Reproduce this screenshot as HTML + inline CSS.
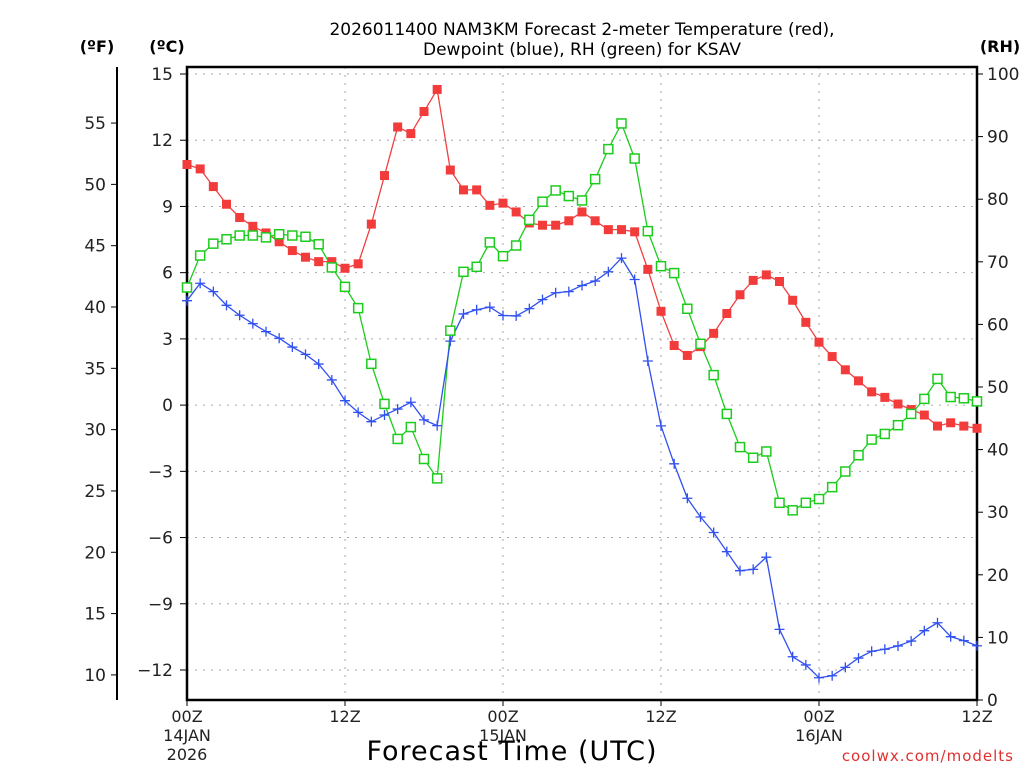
<!DOCTYPE html>
<html><head><meta charset="utf-8"><style>
body{margin:0;background:#fff;width:1024px;height:768px;overflow:hidden}
text{font-family:"DejaVu Sans","Liberation Sans",sans-serif}
</style></head><body>
<svg id="chart" width="1024" height="768" viewBox="0 0 1024 768" xmlns="http://www.w3.org/2000/svg">
<text x="582" y="35" text-anchor="middle" font-size="17" fill="#000">2026011400 NAM3KM Forecast 2-meter Temperature (red),</text>
<text x="582" y="55" text-anchor="middle" font-size="17" fill="#000">Dewpoint (blue), RH (green) for KSAV</text>
<text x="97" y="52" text-anchor="middle" font-size="16" font-weight="bold">(ºF)</text>
<text x="167" y="52" text-anchor="middle" font-size="16" font-weight="bold">(ºC)</text>
<text x="1000" y="52" text-anchor="middle" font-size="16" font-weight="bold">(RH)</text>
<g id="grid"></g><g id="axes"></g><g id="series"></g>
<text x="512" y="760" text-anchor="middle" font-size="27" fill="#000" letter-spacing="1">Forecast Time (UTC)</text>
<text x="1014" y="761" text-anchor="end" font-size="15" fill="#e03030" letter-spacing="1">coolwx.com/modelts</text>
</svg>
<script>
const hours=[...Array(61).keys()];
const tempC=[10.9,10.7,9.9,9.1,8.5,8.1,7.8,7.4,7.0,6.7,6.5,6.5,6.2,6.4,8.2,10.4,12.6,12.3,13.3,14.3,10.65,9.75,9.75,9.05,9.15,8.75,8.25,8.15,8.15,8.35,8.75,8.35,7.95,7.95,7.85,6.15,4.25,2.7,2.25,2.65,3.25,4.15,5.0,5.65,5.9,5.6,4.75,3.75,2.85,2.2,1.6,1.1,0.6,0.35,0.05,-0.2,-0.45,-0.95,-0.8,-0.95,-1.05];
const dewC=[4.73,5.52,5.14,4.52,4.07,3.69,3.33,3.03,2.63,2.3,1.86,1.14,0.2,-0.33,-0.75,-0.45,-0.18,0.13,-0.67,-0.93,2.9,4.13,4.32,4.44,4.06,4.04,4.37,4.78,5.09,5.14,5.42,5.62,6.04,6.66,5.69,2.0,-0.94,-2.66,-4.22,-5.07,-5.77,-6.64,-7.5,-7.44,-6.89,-10.16,-11.4,-11.77,-12.35,-12.26,-11.88,-11.46,-11.15,-11.06,-10.91,-10.69,-10.22,-9.86,-10.49,-10.67,-10.9];
const rh=[65.9,71.0,72.9,73.6,74.2,74.2,73.9,74.4,74.2,74.0,72.8,69.1,66.0,62.6,53.7,47.3,41.7,43.6,38.5,35.4,59.0,68.4,69.2,73.1,70.9,72.6,76.7,79.6,81.4,80.5,79.8,83.2,88.0,92.1,86.5,74.9,69.3,68.2,62.5,56.9,51.9,45.7,40.4,38.7,39.7,31.5,30.3,31.5,32.1,34.0,36.5,39.1,41.6,42.5,43.9,45.7,48.1,51.3,48.4,48.2,47.7];
const cTicks=[15,12,9,6,3,0,-3,-6,-9,-12];
const fTicks=[55,50,45,40,35,30,25,20,15,10];
const rhTicks=[100,90,80,70,60,50,40,30,20,10,0];
const xTickHours=[0,12,24,36,48,60];
const xTickLabels=[["00Z","14JAN","2026"],["12Z"],["00Z","15JAN"],["12Z"],["00Z","16JAN"],["12Z"]];
const L=187,R=977,T=67,B=700;
const x=h=>L+(R-L)*h/60;
const yC=c=>74+(15-c)*(596/27);
const yF=f=>yC((f-32)*5/9);
const yRH=r=>700-r*6.26;
const NS="http://www.w3.org/2000/svg";
function mk(p,tag,a){const e=document.createElementNS(NS,tag);for(const k in a)e.setAttribute(k,a[k]);p.appendChild(e);return e;}
const grid=document.getElementById('grid'),axes=document.getElementById('axes'),ser=document.getElementById('series');
cTicks.forEach(c=>{const g=mk(grid,'line',{x1:L,x2:R,y1:yC(c),y2:yC(c),stroke:'#aaa','stroke-dasharray':'2,6'});

const t=mk(axes,'line',{x1:L-7,x2:L,y1:yC(c),y2:yC(c),stroke:'#000'});
const tx=mk(axes,'text',{x:173,y:yC(c)+6,'text-anchor':'end','font-size':17,fill:'#222'});tx.textContent=c<0?'\u2212'+(-c):c;
});
fTicks.forEach(f=>{mk(axes,'line',{x1:111,x2:117,y1:yF(f),y2:yF(f),stroke:'#000'});
const tx=mk(axes,'text',{x:106,y:yF(f)+6,'text-anchor':'end','font-size':17,fill:'#222'});tx.textContent=f;
});
rhTicks.forEach(r=>{mk(axes,'line',{x1:R,x2:R+6,y1:yRH(r),y2:yRH(r),stroke:'#000'});
const tx=mk(axes,'text',{x:987,y:yRH(r)+6,'font-size':17,fill:'#222'});tx.textContent=r;
});
xTickHours.forEach((h,i)=>{if(h>0&&h<60){const g=mk(grid,'line',{x1:x(h),x2:x(h),y1:T,y2:B,stroke:'#aaa','stroke-dasharray':'2,6'});
}
mk(axes,'line',{x1:x(h),x2:x(h),y1:B,y2:B+6,stroke:'#000'});
xTickLabels[i].forEach((s,j)=>{const tx=mk(axes,'text',{x:x(h),y:722+j*19,'text-anchor':'middle','font-size':16,fill:'#222'});tx.textContent=s;
});});
const box=mk(axes,'rect',{x:L,y:T,width:R-L,height:B-T,fill:'none',stroke:'#000','stroke-width':2.5});

const fax=mk(axes,'line',{x1:117,x2:117,y1:T,y2:B,stroke:'#000','stroke-width':2});

function line(vals,yf,col,name){const pts=vals.map((v,i)=>x(hours[i])+','+yf(v)).join(' ');
const pl=mk(ser,'polyline',{points:pts,fill:'none',stroke:col,'stroke-width':1.3});
}
line(rh,yRH,'#1ccc1c','rh-line');line(tempC,yC,'#f04040','temperature-line');line(dewC,yC,'#3050f0','dewpoint-line');
tempC.forEach((v,i)=>{const m=mk(ser,'rect',{x:x(hours[i])-4.5,y:yC(v)-4.5,width:9,height:9,fill:'#f23c3c'});
});
rh.forEach((v,i)=>{const m=mk(ser,'rect',{x:x(hours[i])-4.5,y:yRH(v)-4.5,width:9,height:9,fill:'#fff',stroke:'#1ccc1c','stroke-width':1.5});
});
dewC.forEach((v,i)=>{const cx=x(hours[i]),cy=yC(v);const m=mk(ser,'path',{d:`M${cx-5} ${cy}H${cx+5}M${cx} ${cy-5}V${cy+5}`,stroke:'#3050f0','stroke-width':1.3});
});
</script>
</body></html>
